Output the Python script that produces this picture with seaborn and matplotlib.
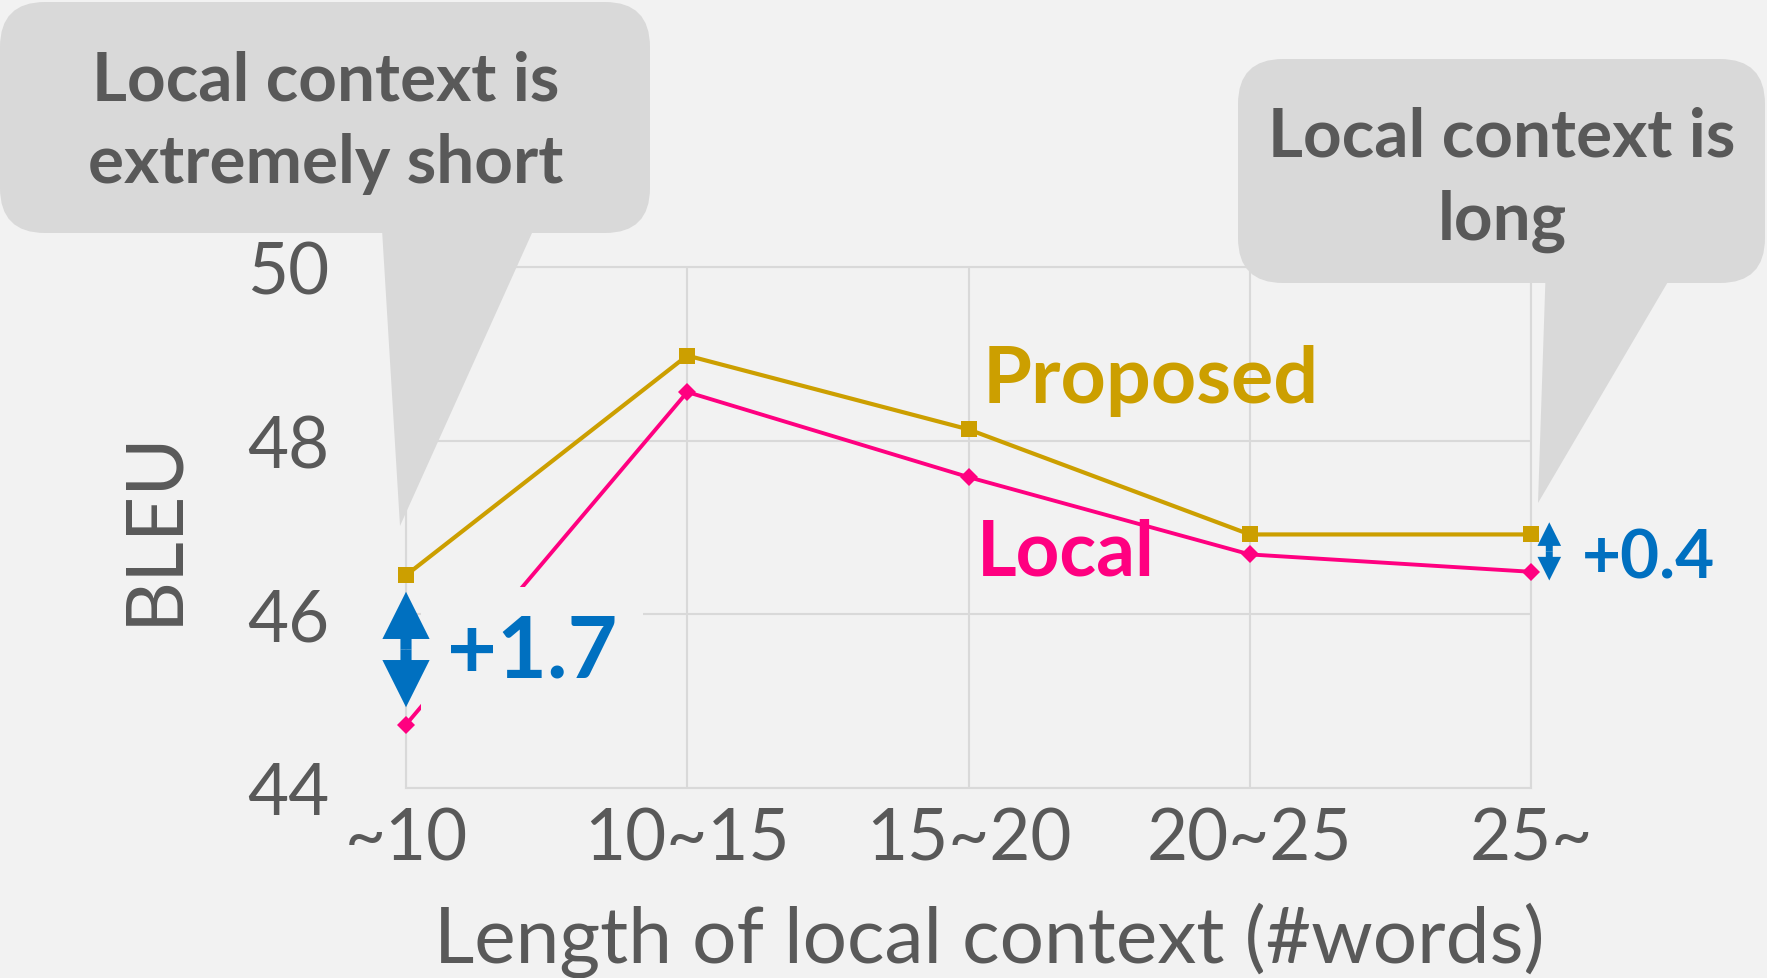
import numpy as np
import pandas as pd
import matplotlib
matplotlib.use('Agg')
import matplotlib.pyplot as plt
from matplotlib.patches import FancyBboxPatch, Polygon
from matplotlib.transforms import IdentityTransform
import seaborn as sns

# data
lengths = ['~10', '10~15', '15~20', '20~25', '25~']
proposed = [46.45, 48.98, 48.13, 46.92, 46.92]
local = [44.73, 48.56, 47.58, 46.69, 46.49]
yticks = [44, 46, 48, 50]
gains = ['+1.7', '+0.4']

BG = '#f2f2f2'
GRID = '#d9d9d9'
TXT = '#595959'
GOLD = '#cc9f00'
PINK = '#ff0080'
BLUE = '#0070c0'
BOX = '#d9d9d9'

W, H = 1767, 979

sns.set_style('white')
plt.rcParams['font.family'] = ['Lato', 'DejaVu Sans']

fig = plt.figure(figsize=(W / 100, H / 100), dpi=100, facecolor=BG)
ax = fig.add_axes([406 / W, 1 - 789 / H, 1125 / W, 521 / H])
ax.set_facecolor(BG)

df = pd.DataFrame({'pos': np.arange(len(lengths)), 'Proposed': proposed, 'Local': local})

sns.lineplot(data=df, x='pos', y='Proposed', color=GOLD, linewidth=3, marker='s',
             markersize=12, markeredgewidth=0, clip_on=False, zorder=3, ax=ax)
sns.lineplot(data=df, x='pos', y='Local', color=PINK, linewidth=2.8, marker='D',
             markersize=8.7, markeredgewidth=0, clip_on=False, zorder=3, ax=ax)

ax.set_xlim(0, len(lengths) - 1)
ax.set_ylim(yticks[0], yticks[-1])
ax.set_xticks(df['pos'], lengths)
ax.set_yticks(yticks)
ax.grid(True, color=GRID, linewidth=1.5)
ax.set_axisbelow(True)
for s in ax.spines.values():
    s.set_visible(True)
    s.set_color(GRID)
    s.set_linewidth(1.5)
ax.tick_params(length=0, labelsize=51, colors=TXT)
ax.tick_params(axis='y', pad=55)
ax.tick_params(axis='x', pad=13)

ax.set_xlabel('Length of local context (#words)', fontsize=56.5, color=TXT, va='center')
ax.xaxis.set_label_coords(0.518, -0.291)
ax.set_ylabel('BLEU', fontsize=57, color=TXT, va='center')
ax.yaxis.set_label_coords(-0.224, 0.502)

# series labels
ax.text(2.05, 48.44, 'Proposed', color=GOLD, fontsize=57, fontweight='bold', va='baseline')
ax.text(2.03, 46.46, 'Local', color=PINK, fontsize=55, fontweight='bold', va='baseline')

# gain labels
ax.text(0.146, 45.28, gains[0], color=BLUE, fontsize=62, fontweight='bold', va='baseline',
        bbox=dict(boxstyle='square,pad=0.3', fc=BG, ec='none'), zorder=4)
ax.text(4.18, 46.42, gains[1], color=BLUE, fontsize=48.5, fontweight='bold', va='baseline',
        zorder=4)


def gap_arrow(x, top, bottom, head, tail):
    mid = (top + bottom) / 2
    style = f'simple,head_length={head},head_width={head},tail_width={tail}'
    for end in (top, bottom):
        ax.annotate('', xy=(x, end), xytext=(x, mid), zorder=5, annotation_clip=False,
                    arrowprops=dict(arrowstyle=style, color=BLUE, lw=0, shrinkA=0,
                                    shrinkB=0, mutation_scale=1))


gap_arrow(0, proposed[0] - 0.19, local[0] + 0.2, 34, 8)
gap_arrow(4.065, proposed[4] + 0.14, local[4] - 0.1, 17, 5)


def callout(x0, y0, x1, y1, base, tip, text, tx, ty):
    # pixel coords, y measured from top of the image
    px = IdentityTransform()
    fig.add_artist(FancyBboxPatch((x0, H - y1), x1 - x0, y1 - y0, transform=px,
                                  boxstyle='round,pad=0,rounding_size=45',
                                  fc=BOX, ec='none', zorder=2))
    fig.add_artist(Polygon([(base[0], H - y1 + 20), (base[1], H - y1 + 20),
                            (tip[0], H - tip[1])], closed=True, transform=px,
                           fc=BOX, ec='none', zorder=2))
    fig.text(tx, H - ty, text, transform=px, ha='center', va='center',
             multialignment='center', fontsize=48.5, fontweight='bold', color=TXT,
             linespacing=1.42, zorder=3)


callout(0, 3, 650, 234, (381, 541), (400, 527), 'Local context is\nextremely short', 326, 123)
callout(1238, 60, 1765, 284, (1546, 1679), (1538, 504), 'Local context is\nlong', 1502, 180)

fig.savefig('out.png', dpi=100, facecolor=BG)
